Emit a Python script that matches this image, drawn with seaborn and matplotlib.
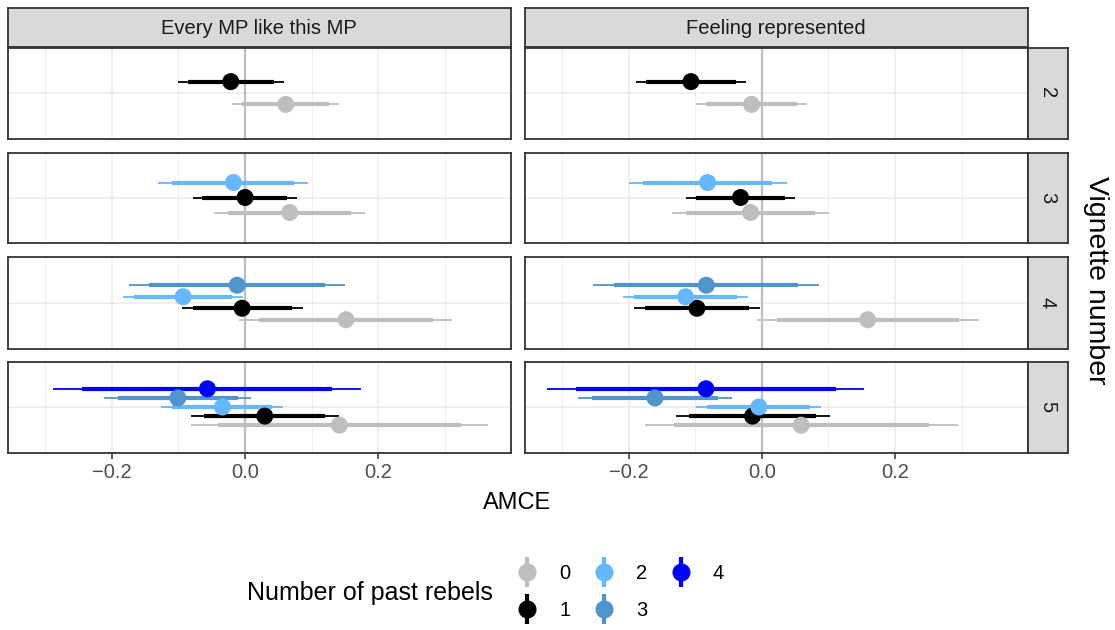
import numpy as np
import pandas as pd
import matplotlib
matplotlib.use("Agg")
import matplotlib.pyplot as plt
import seaborn as sns
from matplotlib.lines import Line2D
from matplotlib.legend_handler import HandlerTuple

# ---- data ----
outcomes = ["Every MP like this MP", "Feeling represented"]
vignettes = [2, 3, 4, 5]
rebel_levels = [0, 1, 2, 3, 4]

outcome = ["Every MP like this MP"] * 14 + ["Feeling represented"] * 14
vignette = [2, 2, 3, 3, 3, 4, 4, 4, 4, 5, 5, 5, 5, 5] * 2
rebels = [0, 1, 0, 1, 2, 0, 1, 2, 3, 0, 1, 2, 3, 4] * 2

estimate = [0.061, -0.0215,
            0.067, 0.0, -0.0175,
            0.1515, -0.0045, -0.093, -0.012,
            0.1415, 0.0295, -0.034, -0.101, -0.0565,
            -0.0155, -0.1065,
            -0.017, -0.032, -0.0815,
            0.159, -0.0975, -0.1145, -0.0835,
            0.059, -0.014, -0.0045, -0.1605, -0.084]
lo95 = [-0.019, -0.100,
        -0.046, -0.0785, -0.130,
        -0.0085, -0.095, -0.1825, -0.174,
        -0.0815, -0.0815, -0.1255, -0.211, -0.2875,
        -0.0985, -0.189,
        -0.135, -0.1145, -0.1995,
        -0.008, -0.1925, -0.209, -0.253,
        -0.175, -0.1295, -0.0995, -0.2765, -0.322]
hi95 = [0.1415, 0.058,
        0.1795, 0.0775, 0.094,
        0.3105, 0.0865, -0.0025, 0.1495,
        0.3645, 0.1405, 0.0565, 0.0085, 0.1735,
        0.068, -0.024,
        0.101, 0.050, 0.0375,
        0.326, -0.0025, -0.021, 0.086,
        0.294, 0.1025, 0.0895, -0.0445, 0.154]
lo90 = [-0.004, -0.085,
        -0.025, -0.064, -0.109,
        0.0215, -0.0785, -0.166, -0.144,
        -0.040, -0.061, -0.109, -0.1905, -0.2445,
        -0.0835, -0.1735,
        -0.1135, -0.0995, -0.178,
        0.023, -0.175, -0.192, -0.2215,
        -0.132, -0.109, -0.082, -0.255, -0.2785]
hi90 = [0.1265, 0.0435,
        0.1585, 0.0635, 0.0735,
        0.2815, 0.070, -0.019, 0.120,
        0.324, 0.120, 0.040, -0.011, 0.131,
        0.053, -0.039,
        0.080, 0.0345, 0.0155,
        0.296, -0.020, -0.038, 0.055,
        0.251, 0.082, 0.0725, -0.066, 0.111]

palette = {0: "#BEBEBE", 1: "#000000", 2: "#63B8FF", 3: "#4F94CD", 4: "#0000FF"}

df = pd.DataFrame({"outcome": outcome, "vignette": vignette, "rebels": rebels,
                   "est": estimate, "lo95": lo95, "hi95": hi95,
                   "lo90": lo90, "hi90": hi90})

# dodge positions within each panel (like position_dodge, width 0.6)
dodge_w = 0.6
n_grp = df.groupby(["outcome", "vignette"])["rebels"].transform("count")
df["ypos"] = (df["rebels"] - (n_grp - 1) / 2) * dodge_w / n_grp

# ---- figure ----
sns.set_theme(style="white")
plt.rcParams["font.family"] = ["Liberation Sans", "DejaVu Sans"]

W, H = 1115, 630
fig = plt.figure(figsize=(W / 100, H / 100), dpi=100)


def px_axes(x0, y0, x1, y1):
    return fig.add_axes([x0 / W, 1 - y1 / H, (x1 - x0) / W, (y1 - y0) / H])


col_x = [(7.5, 511.0), (524.5, 1027.5)]
row_y = [(47.5, 138.5), (152.5, 242.5), (256.5, 348.5), (361.5, 452.5)]
border = "#333333"
small = 14.5

for ci, out in enumerate(outcomes):
    x0, x1 = col_x[ci]
    # top strip
    sa = px_axes(x0, 7.5, x1, 46.5)
    sa.set_facecolor("#D9D9D9")
    sa.set_xticks([]); sa.set_yticks([])
    for sp in sa.spines.values():
        sp.set_color(border); sp.set_linewidth(1.3)
    sa.text(0.5, 0.47, out, ha="center", va="center", fontsize=small,
            color="#1A1A1A", transform=sa.transAxes)

    for ri, vig in enumerate(vignettes):
        y0, y1 = row_y[ri]
        ax = px_axes(x0, y0, x1, y1)
        sub = df[(df["outcome"] == out) & (df["vignette"] == vig)]

        ax.set_xlim(-0.3565, 0.399)
        ax.set_ylim(-0.6, 0.6)
        ax.set_xticks([-0.2, 0.0, 0.2])
        ax.set_xticks([-0.3, -0.1, 0.1, 0.3], minor=True)
        ax.set_yticks([0])
        ax.grid(True, which="major", color="#EBEBEB", lw=1.1, zorder=0)
        ax.grid(True, which="minor", axis="x", color="#EBEBEB", lw=0.6, zorder=0)
        ax.set_axisbelow(True)
        ax.axvline(0, color="#BEBEBE", lw=1.6, zorder=1)

        for _, r in sub.iterrows():
            c = palette[r["rebels"]]
            ax.hlines(r["ypos"], r["lo95"], r["hi95"], color=c, lw=1.3, zorder=2)
            ax.hlines(r["ypos"], r["lo90"], r["hi90"], color=c, lw=3.0, zorder=2)
        sns.scatterplot(data=sub, x="est", y="ypos", hue="rebels", palette=palette,
                        s=150, linewidth=0, legend=False, ax=ax, zorder=3)

        ax.set_xlabel(""); ax.set_ylabel("")
        ax.tick_params(axis="y", left=False, labelleft=False)
        if ri == len(vignettes) - 1:
            ax.tick_params(axis="x", bottom=True, length=4, width=1.1, color=border,
                           labelsize=small, labelcolor="#4D4D4D", pad=3.5)
        else:
            ax.tick_params(axis="x", bottom=False, labelbottom=False)
        ax.tick_params(axis="x", which="minor", bottom=False)
        for sp in ax.spines.values():
            sp.set_visible(True); sp.set_color(border); sp.set_linewidth(1.3)

        if ci == 1:
            ra = px_axes(1027.5, y0, 1067.5, y1)
            ra.set_facecolor("#D9D9D9")
            ra.set_xticks([]); ra.set_yticks([])
            for sp in ra.spines.values():
                sp.set_color(border); sp.set_linewidth(1.3)
            ra.text(0.5, 0.5, str(vig), ha="center", va="center", rotation=-90,
                    fontsize=small, color="#1A1A1A", transform=ra.transAxes)

fig.text(517 / W, 1 - 503 / H, "AMCE", ha="center", va="center", fontsize=17,
         color="black")
fig.text(1096 / W, 1 - 280 / H, "Vignette number", ha="center", va="center",
         rotation=-90, fontsize=20.5, color="black")

# legend: pointrange keys, title on the left
handles = [(Line2D([], [], ls="none", marker="|", markersize=22, markeredgewidth=3,
                   color=palette[k]),
            Line2D([], [], ls="none", marker="o", markersize=12, color=palette[k]))
           for k in rebel_levels]
fig.text(247 / W, 1 - 593 / H, "Number of past rebels", ha="left", va="center",
         fontsize=18, color="black")
leg = fig.legend(handles, [str(k) for k in rebel_levels], ncol=3, frameon=False,
                 handler_map={tuple: HandlerTuple(ndivide=1)},
                 loc="center left", bbox_to_anchor=(494 / W, 1 - 592 / H),
                 fontsize=small, handlelength=1.5, handletextpad=0.85,
                 columnspacing=0.9, labelspacing=0.85)
for t in leg.get_texts():
    t.set_color("black")

fig.savefig("out.png", dpi=100)
